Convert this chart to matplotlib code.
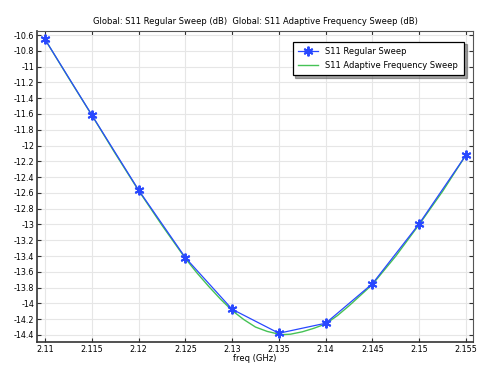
import matplotlib
matplotlib.use("Agg")
import matplotlib.pyplot as plt
from matplotlib.ticker import FuncFormatter, MultipleLocator

# Regular sweep (markers)
freq_reg = [2.11, 2.115, 2.12, 2.125, 2.13, 2.135, 2.14, 2.145, 2.15, 2.155]
s11_reg = [-10.655, -11.613, -12.563, -13.42, -14.074, -14.378, -14.251, -13.75, -12.99, -12.12]

# Adaptive frequency sweep (read at finer spacing)
freq_ada = [2.11, 2.1125, 2.115, 2.1175, 2.12, 2.1225, 2.125, 2.12625, 2.1275,
            2.12875, 2.13, 2.13125, 2.1325, 2.13375, 2.135, 2.1355, 2.13625,
            2.1375, 2.13875, 2.14, 2.14125, 2.1425, 2.145, 2.1475, 2.15,
            2.1525, 2.155]
s11_ada = [-10.655, -11.14, -11.615, -12.10, -12.57, -13.01, -13.43, -13.615, -13.785,
           -13.945, -14.09, -14.205, -14.30, -14.355, -14.39, -14.395, -14.39,
           -14.36, -14.315, -14.26, -14.155, -14.03, -13.76, -13.40, -13.00,
           -12.58, -12.12]

title = "Global: S11 Regular Sweep (dB)  Global: S11 Adaptive Frequency Sweep (dB)"

fig = plt.figure(figsize=(4.79, 3.66), dpi=100)
ax = fig.add_axes([0.0772, 0.0656, 0.9103, 0.8497])

ax.plot(freq_ada, s11_ada, color="#45c255", lw=1.0, label="S11 Adaptive Frequency Sweep", zorder=3)
ax.plot(freq_reg, s11_reg, color="#2848ff", lw=0.9, marker=(6, 2, 0), ms=7, mew=1.4,
        mec="#2848ff", mfc="#2848ff", label="S11 Regular Sweep", zorder=4)

ax.set_xlim(2.10914, 2.15575)
ax.set_ylim(-14.489, -10.549)
ax.xaxis.set_major_locator(MultipleLocator(0.005))
ax.yaxis.set_major_locator(MultipleLocator(0.2))
fmt = FuncFormatter(lambda v, p: "%g" % round(v, 4))
ax.xaxis.set_major_formatter(fmt)
ax.yaxis.set_major_formatter(fmt)

ax.grid(True, color="#e6e6e6", lw=0.8)
ax.set_axisbelow(True)
ax.tick_params(direction="in", length=3, width=0.8, labelsize=5.8,
               top=True, right=True, pad=2, colors="#333333", labelcolor="black")
for side in ["left", "bottom"]:
    ax.spines[side].set_linewidth(1.2)
    ax.spines[side].set_color("#333333")
for side in ["top", "right"]:
    ax.spines[side].set_linewidth(0.8)
    ax.spines[side].set_color("#555555")

ax.set_title(title, fontsize=6, pad=5)
ax.set_xlabel("freq (GHz)", fontsize=6, labelpad=0)

handles, labels = ax.get_legend_handles_labels()
leg = ax.legend(handles[::-1], labels[::-1], loc="upper right",
                bbox_to_anchor=(0.979, 0.966), borderaxespad=0, fontsize=6,
                fancybox=False, shadow=True, edgecolor="black", framealpha=1,
                borderpad=0.7, handlelength=2.4)
leg.get_frame().set_linewidth(0.9)

fig.savefig("out.png", dpi=100)
